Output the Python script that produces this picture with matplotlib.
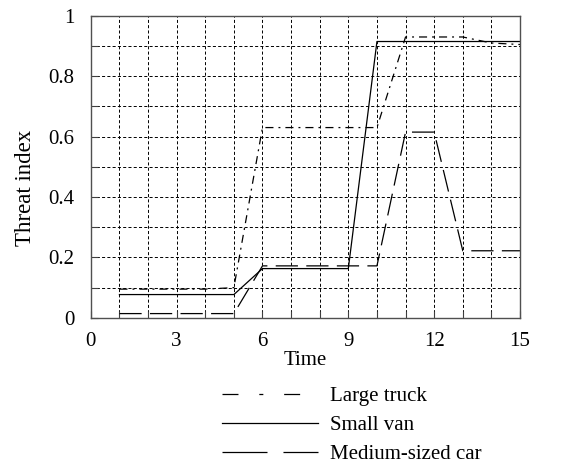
import numpy as np
import matplotlib
matplotlib.use("Agg")
import matplotlib.pyplot as plt
from matplotlib.lines import Line2D
from matplotlib.ticker import MultipleLocator

plt.rcParams['font.family'] = ['Liberation Serif', 'DejaVu Serif']
plt.rcParams['lines.scale_dashes'] = False

# данные
time = [1, 2, 3, 4, 5, 6, 7, 8, 9, 10, 11, 12, 13, 14, 15]
large_truck = [0.095, 0.095, 0.095, 0.095, 0.10, 0.63, 0.63, 0.63, 0.63, 0.63,
               0.93, 0.93, 0.93, 0.91, 0.905]
small_van = [0.077, 0.077, 0.077, 0.077, 0.077, 0.163, 0.163, 0.163, 0.163, 0.915,
             0.915, 0.915, 0.915, 0.915, 0.915]
medium_car = [0.014, 0.014, 0.014, 0.014, 0.014, 0.172, 0.172, 0.172, 0.172, 0.172,
              0.615, 0.615, 0.222, 0.222, 0.222]
labels = ['Large truck', 'Small van', 'Medium-sized car']
xticks = [0, 3, 6, 9, 12, 15]
yticks = [0, 0.2, 0.4, 0.6, 0.8, 1]
yticklabels = ['0', '0.2', '0.4', '0.6', '0.8', '1']

fs = 15

fig = plt.figure(figsize=(5.64, 4.66), dpi=100)
ax = fig.add_axes([0.161, 0.318, 0.761, 0.648])

truck_dash = (5.8, 3.6, 1.4, 3.6)
car_dash = (16, 6)
ax.plot(time, large_truck, color='black', lw=0.9, dashes=truck_dash)
ax.plot(time, small_van, color='black', lw=0.9)
ax.plot(time, medium_car, color='black', lw=0.9, dashes=car_dash)

ax.set_xlim(0, 15)
ax.set_ylim(0, 1)
ax.set_xticks(xticks)
ax.set_yticks(yticks, yticklabels)
ax.xaxis.set_minor_locator(MultipleLocator(1))
ax.yaxis.set_minor_locator(MultipleLocator(0.1))
ax.grid(True, which='both', color='black', lw=0.7, dashes=(2.2, 1.6))
ax.tick_params(which='both', direction='in', length=5, width=0.8,
               labelsize=fs, color='#404040')
ax.tick_params(axis='y', pad=12)
ax.tick_params(axis='x', pad=10)
for s in ax.spines.values():
    s.set_color('#505050')
    s.set_linewidth(1)

ax.set_xlabel('Time', fontsize=fs, labelpad=0)
ax.set_ylabel('Threat index', fontsize=16.5, labelpad=9, y=0.43)

# легенда под графиком
handles = [Line2D([], [], color='black', lw=0.9, dashes=(11.5, 15, 2.9, 15)),
           Line2D([], [], color='black', lw=0.9),
           Line2D([], [], color='black', lw=0.9, dashes=(32.4, 11.5))]
fig.legend(handles, labels, loc='upper left', bbox_to_anchor=(0.379, 0.188),
           frameon=False, fontsize=fs, handlelength=4.6, handletextpad=0.6,
           labelspacing=0.44, borderaxespad=0)

fig.savefig('out.png', dpi=100)
